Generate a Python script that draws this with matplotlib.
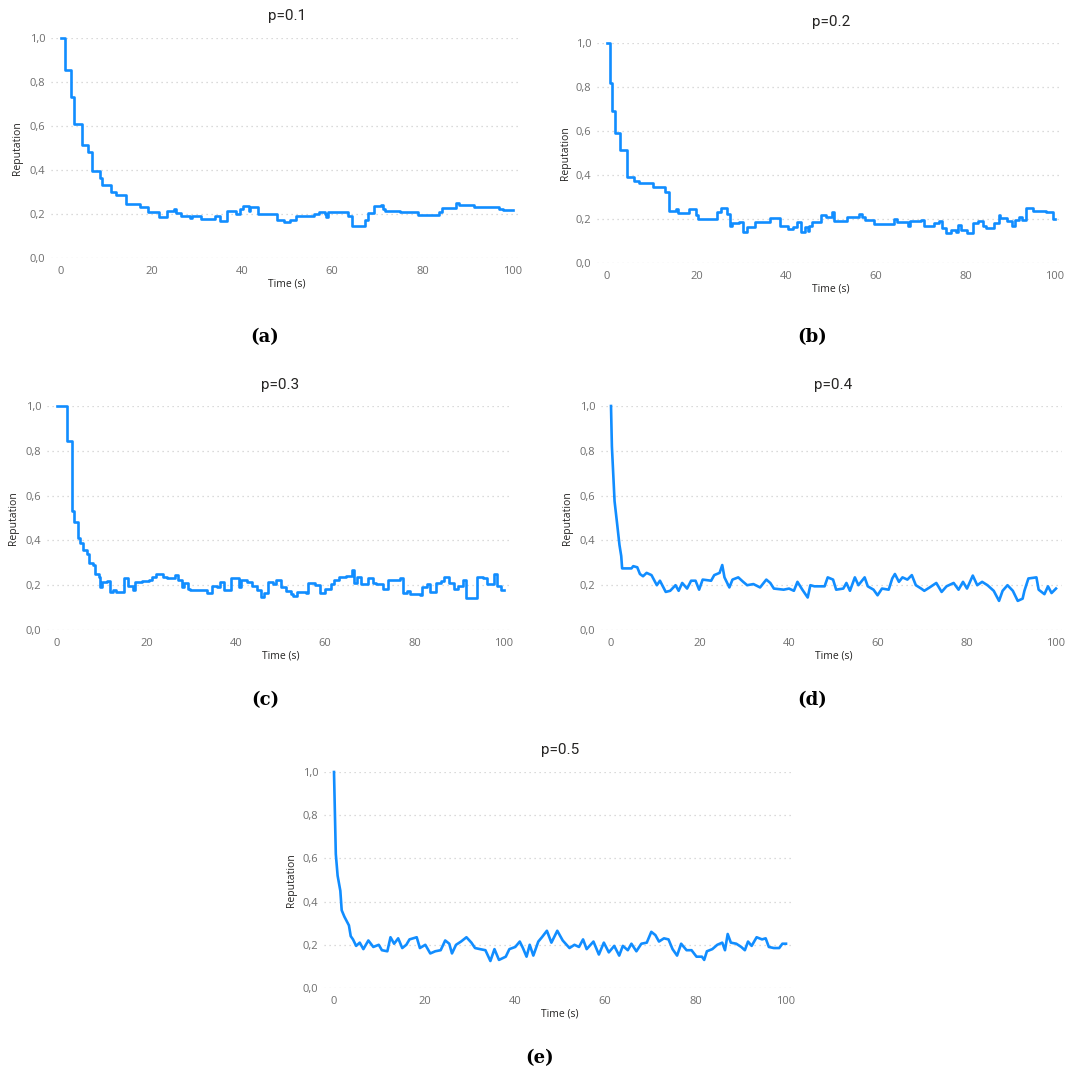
import matplotlib.pyplot as plt

W, H = 1070, 1078
BLUE = '#118DFF'

# ---- data (time in s, reputation) ----
a_time = [0, 0.9, 2.2, 2.8, 4.6, 5.9, 6.9, 8.6, 9.0, 11.1, 12.2, 14.3, 17.4, 19.3, 21.6,
          23.4, 25.1, 25.4, 26.6, 28.5, 28.9, 31.0, 34.1, 35.2, 36.4, 36.7, 38.8, 39.6, 40.3, 41.6,
          41.9, 43.6, 47.8, 49.3, 50.7, 51.9, 56.0, 57.1, 58.4, 58.7, 59.0, 63.4, 64.3, 67.2, 67.9,
          69.3, 70.9, 71.3, 71.6, 74.9, 79.0, 83.6, 84.3, 87.5, 88.0, 90.3, 91.4, 97.0, 97.8, 100]
a_rep = [1.0, 0.855, 0.73, 0.607, 0.515, 0.484, 0.395, 0.362, 0.333, 0.298, 0.286, 0.244, 0.23, 0.208, 0.188,
         0.213, 0.224, 0.205, 0.19, 0.184, 0.19, 0.177, 0.19, 0.166, 0.17, 0.214, 0.20, 0.225, 0.238, 0.215,
         0.232, 0.202, 0.172, 0.163, 0.172, 0.19, 0.20, 0.21, 0.20, 0.185, 0.21, 0.19, 0.145, 0.175, 0.205,
         0.238, 0.24, 0.222, 0.214, 0.21, 0.195, 0.21, 0.228, 0.251, 0.242, 0.243, 0.233, 0.225, 0.218, 0.218]

b_time = [0, 0.75, 1.1, 1.7, 2.9, 4.4, 6.1, 7.2, 10.2, 13.0, 13.9, 15.5, 15.9, 18.4, 19.8,
          20.4, 24.6, 25.4, 26.7, 27.4, 28.0, 29.5, 30.3, 31.2, 33.0, 36.3, 38.7, 40.3, 41.5, 42.4,
          43.2, 44.2, 44.8, 45.2, 45.7, 47.7, 48.9, 50.3, 50.6, 53.6, 56.2, 56.9, 57.7, 59.6, 64.1,
          64.8, 67.1, 67.6, 70.0, 70.8, 73.1, 74.2, 74.8, 75.7, 76.8, 78.0, 78.4, 79.0, 80.4, 81.8,
          82.9, 84.0, 84.7, 86.3, 87.4, 87.8, 89.3, 90.4, 91.0, 91.9, 92.6, 93.5, 95.0, 97.9, 99.6, 100]
b_rep = [1.0, 0.82, 0.69, 0.59, 0.513, 0.393, 0.372, 0.362, 0.347, 0.324, 0.236, 0.245, 0.227, 0.245, 0.22,
         0.199, 0.23, 0.248, 0.225, 0.169, 0.18, 0.185, 0.139, 0.165, 0.187, 0.205, 0.17, 0.154, 0.165, 0.185,
         0.14, 0.165, 0.145, 0.17, 0.187, 0.218, 0.21, 0.23, 0.19, 0.207, 0.225, 0.21, 0.195, 0.177, 0.20,
         0.185, 0.17, 0.19, 0.195, 0.17, 0.18, 0.19, 0.16, 0.137, 0.15, 0.14, 0.175, 0.15, 0.135, 0.18,
         0.19, 0.17, 0.158, 0.18, 0.22, 0.205, 0.19, 0.17, 0.195, 0.21, 0.195, 0.251, 0.237, 0.23, 0.202, 0.202]

c_time = [0, 2.2, 3.4, 3.9, 4.6, 5.2, 5.8, 6.6, 7.2, 8.0, 8.4, 9.4, 9.7, 10.1, 11.1,
          11.8, 12.6, 13.3, 15.0, 15.9, 16.9, 17.4, 19.0, 20.6, 21.3, 22.1, 23.2, 23.7, 24.7, 26.3,
          27.0, 28.0, 28.5, 29.2, 29.7, 31.9, 33.5, 34.6, 35.7, 36.5, 37.4, 39.0, 40.7, 41.2, 42.6,
          43.7, 44.8, 45.6, 46.4, 47.3, 48.3, 49.0, 50.2, 51.3, 52.4, 52.8, 53.6, 55.6, 56.2, 57.7,
          58.9, 60.0, 61.2, 61.9, 63.0, 64.6, 65.9, 66.5, 67.2, 68.0, 69.5, 70.6, 71.4, 72.9, 74.1,
          76.7, 77.3, 78.2, 79.0, 81.3, 81.6, 82.8, 83.5, 84.7, 85.8, 86.6, 87.7, 88.9, 89.6, 90.8,
          91.6, 93.1, 93.9, 95.4, 96.2, 97.7, 98.5, 99.3, 100]
c_rep = [1.0, 0.845, 0.53, 0.48, 0.41, 0.39, 0.355, 0.34, 0.30, 0.29, 0.25, 0.235, 0.19, 0.215, 0.22,
         0.17, 0.18, 0.17, 0.23, 0.195, 0.18, 0.215, 0.22, 0.225, 0.235, 0.252, 0.248, 0.235, 0.23, 0.245,
         0.225, 0.19, 0.21, 0.185, 0.18, 0.178, 0.165, 0.195, 0.19, 0.215, 0.18, 0.232, 0.19, 0.225, 0.215,
         0.195, 0.18, 0.148, 0.165, 0.215, 0.205, 0.225, 0.19, 0.175, 0.16, 0.15, 0.17, 0.165, 0.212, 0.20,
         0.165, 0.185, 0.205, 0.225, 0.235, 0.242, 0.268, 0.21, 0.235, 0.205, 0.23, 0.21, 0.205, 0.185, 0.225,
         0.23, 0.165, 0.175, 0.16, 0.155, 0.19, 0.205, 0.17, 0.21, 0.22, 0.238, 0.21, 0.185, 0.195, 0.225,
         0.145, 0.145, 0.235, 0.23, 0.205, 0.25, 0.195, 0.18, 0.18]

d_time = [0, 0.2, 0.8, 1.4, 1.9, 2.3, 2.5, 4.6, 5.0, 5.9, 6.5, 7.2, 8.0, 9.1, 10.3,
          11.0, 12.3, 13.3, 14.5, 15.2, 16.0, 17.1, 18.0, 19.0, 19.8, 20.6, 22.5, 23.2, 24.4, 25.0,
          25.5, 26.6, 27.3, 28.6, 29.7, 30.6, 32.0, 33.5, 34.9, 35.8, 36.6, 38.8, 40.0, 41.1, 41.9,
          43.0, 44.2, 44.8, 45.7, 48.0, 48.7, 49.9, 50.6, 52.2, 52.9, 53.7, 54.8, 55.6, 57.0, 57.7,
          59.0, 59.9, 60.9, 62.4, 63.2, 63.8, 64.7, 65.5, 66.6, 67.6, 68.5, 69.7, 70.4, 71.6, 73.1,
          74.3, 75.4, 77.0, 78.1, 79.1, 80.0, 81.3, 82.3, 83.4, 84.6, 86.0, 87.2, 88.0, 89.1, 90.3,
          91.4, 92.5, 92.9, 93.8, 95.6, 96.1, 97.4, 98.2, 99.0, 100]
d_rep = [1.0, 0.82, 0.575, 0.47, 0.38, 0.33, 0.275, 0.275, 0.285, 0.28, 0.25, 0.24, 0.255, 0.245, 0.20,
         0.22, 0.17, 0.175, 0.20, 0.175, 0.21, 0.185, 0.22, 0.22, 0.18, 0.225, 0.22, 0.245, 0.255, 0.29,
         0.235, 0.19, 0.225, 0.235, 0.215, 0.20, 0.205, 0.19, 0.225, 0.21, 0.185, 0.18, 0.185, 0.175, 0.215,
         0.18, 0.145, 0.20, 0.195, 0.195, 0.235, 0.225, 0.18, 0.185, 0.21, 0.175, 0.235, 0.20, 0.235, 0.195,
         0.18, 0.155, 0.185, 0.18, 0.23, 0.25, 0.215, 0.235, 0.225, 0.245, 0.20, 0.185, 0.175, 0.19, 0.21,
         0.17, 0.195, 0.21, 0.18, 0.215, 0.185, 0.243, 0.20, 0.215, 0.20, 0.175, 0.13, 0.175, 0.20, 0.175,
         0.13, 0.14, 0.175, 0.23, 0.235, 0.18, 0.16, 0.195, 0.165, 0.185]

e_time = [0, 0.4, 0.8, 1.4, 1.7, 2.3, 2.8, 3.3, 3.7, 4.2, 4.9, 5.7, 6.5, 7.6, 8.7,
          9.9, 10.6, 11.8, 12.5, 13.3, 14.2, 15.1, 16.0, 16.7, 18.3, 19.0, 20.2, 21.3, 22.4, 23.6,
          24.6, 25.5, 26.1, 27.0, 28.1, 29.3, 30.4, 31.2, 32.3, 33.5, 34.6, 35.5, 36.5, 38.0, 38.8,
          40.1, 41.1, 41.8, 42.6, 43.3, 44.1, 45.2, 46.0, 47.1, 48.1, 49.4, 50.6, 52.1, 53.2, 54.2,
          55.1, 55.9, 57.4, 58.6, 59.7, 60.8, 62.0, 63.1, 63.9, 65.0, 65.8, 66.9, 68.0, 69.2, 70.2,
          71.1, 71.9, 73.0, 74.0, 74.9, 75.9, 76.8, 78.0, 79.1, 80.2, 81.4, 81.9, 82.5, 83.7, 84.8,
          85.9, 86.5, 87.1, 87.8, 89.0, 90.1, 90.9, 91.6, 92.4, 93.5, 94.7, 95.5, 96.2, 97.3, 98.5,
          99.2, 100]
e_rep = [1.0, 0.62, 0.52, 0.45, 0.36, 0.33, 0.31, 0.29, 0.24, 0.225, 0.195, 0.21, 0.18, 0.22, 0.19,
         0.20, 0.175, 0.17, 0.235, 0.205, 0.23, 0.185, 0.20, 0.225, 0.235, 0.185, 0.20, 0.16, 0.17, 0.175,
         0.22, 0.205, 0.16, 0.20, 0.215, 0.235, 0.21, 0.185, 0.18, 0.175, 0.125, 0.18, 0.13, 0.145, 0.18,
         0.19, 0.215, 0.185, 0.145, 0.20, 0.15, 0.215, 0.235, 0.265, 0.21, 0.265, 0.22, 0.185, 0.20, 0.19,
         0.225, 0.18, 0.215, 0.155, 0.21, 0.165, 0.195, 0.15, 0.195, 0.175, 0.205, 0.17, 0.205, 0.21, 0.26,
         0.245, 0.215, 0.23, 0.225, 0.18, 0.15, 0.205, 0.175, 0.175, 0.145, 0.145, 0.13, 0.17, 0.18, 0.20,
         0.21, 0.175, 0.25, 0.21, 0.205, 0.19, 0.175, 0.215, 0.195, 0.235, 0.225, 0.23, 0.19, 0.185, 0.185,
         0.205, 0.205]

titles = ['p=0.1', 'p=0.2', 'p=0.3', 'p=0.4', 'p=0.5']
captions = ['(a)', '(b)', '(c)', '(d)', '(e)']
y_ticks = [0.0, 0.2, 0.4, 0.6, 0.8, 1.0]
y_tick_labels = ['0,0', '0,2', '0,4', '0,6', '0,8', '1,0']
x_ticks = [0, 20, 40, 60, 80, 100]

series = [(a_time, a_rep, 'steps-post'), (b_time, b_rep, 'steps-post'),
          (c_time, c_rep, 'steps-post'), (d_time, d_rep, 'default'),
          (e_time, e_rep, 'default')]

# pixel layout: x of t=0, x of t=100, y of 1.0, y of 0.0, title y, ylabel x, xlabel y, caption (x, y)
layout = [
    (61, 513, 38, 258, 16, 18, 284, (265, 337)),
    (607, 1055, 43, 263, 22, 565, 289, (812, 337)),
    (57, 504, 406, 630, 385, 13, 656, (265, 700)),
    (611, 1056, 406, 630, 385, 568, 656, (812, 700)),
    (334, 786, 772, 988, 750, 292, 1014, (540, 1058)),
]

fig = plt.figure(figsize=(W / 100, H / 100), dpi=100)

for (t, r, ds), title, cap, lay in zip(series, titles, captions, layout):
    x0, x100, y1, y0, ty, ylx, xly, (cx, cy) = lay
    ppu = (x100 - x0) / 100.0
    lpx, rpx = x0 - 10, x100 + 6
    ax = fig.add_axes([lpx / W, 1 - y0 / H, (rpx - lpx) / W, (y0 - y1) / H])
    ax.set_xlim(-10 / ppu, 100 + 6 / ppu)
    ax.set_ylim(0, 1)

    ax.plot(t, r, color=BLUE, lw=1.9, drawstyle=ds, clip_on=False, zorder=3)

    ax.set_yticks(y_ticks)
    ax.set_yticklabels(y_tick_labels)
    ax.set_xticks(x_ticks)
    ax.tick_params(length=0, labelsize=8, labelcolor='#6e6e6e', pad=4)
    ax.tick_params(axis='x', pad=6)
    for lab in ax.get_xticklabels() + ax.get_yticklabels():
        lab.set_family('Open Sans')
    ax.yaxis.grid(True, linestyle=(0, (1, 3)), color='#CFCFCF', lw=0.9)
    ax.xaxis.grid(False)
    for s in ax.spines.values():
        s.set_visible(False)

    xc = (x0 + x100) / 2.0
    fig.text(xc / W, 1 - ty / H, title, ha='center', va='center',
             fontsize=11, family='Roboto', color='#252423')
    fig.text(ylx / W, 1 - (y1 + y0) / 2.0 / H, 'Reputation', rotation=90,
             ha='center', va='center', fontsize=7.5, family='Open Sans', color='#252423')
    fig.text(xc / W, 1 - xly / H, 'Time (s)', ha='center', va='center',
             fontsize=7.5, family='Open Sans', color='#252423')
    fig.text(cx / W, 1 - cy / H, cap, ha='center', va='center',
             fontsize=13, family='DejaVu Serif', weight='bold', color='black')

fig.savefig('out.png', dpi=100)
